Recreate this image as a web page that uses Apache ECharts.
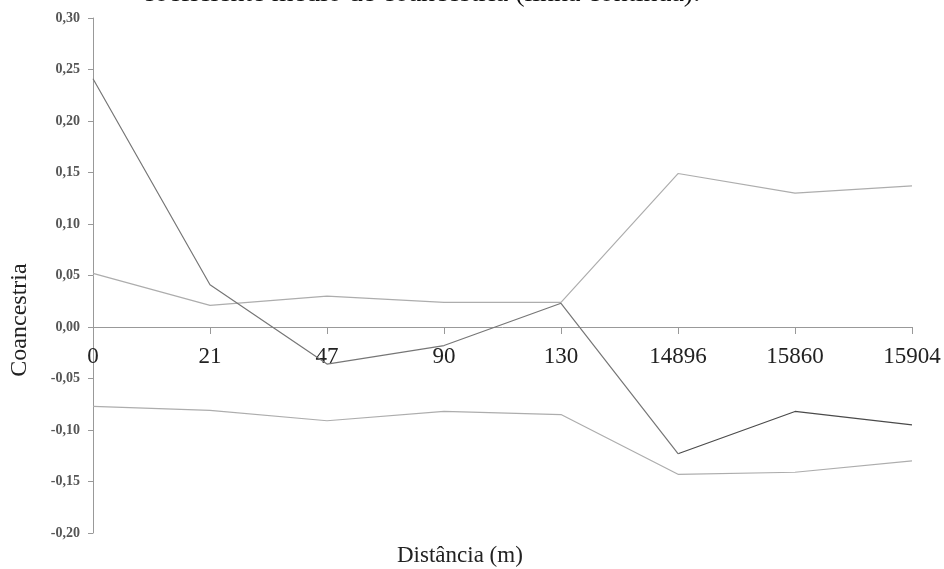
<!DOCTYPE html>
<html>
<head>
<meta charset="utf-8">
<script src="https://cdn.jsdelivr.net/npm/echarts@6/dist/echarts.min.js"></script>
<style>
  html, body { margin: 0; padding: 0; background: #fff; }
  #chart { width: 944px; height: 569px; }
</style>
</head>
<body>
<div id="chart"></div>
<script>
// Distance classes (m)
const distances = ['0', '21', '47', '90', '130', '14896', '15860', '15904'];
// Mean coancestry coefficient per distance class
const coancestry = [0.241, 0.041, -0.036, -0.018, 0.023, -0.123, -0.082, -0.095];
// Upper and lower limits of the confidence envelope
const upperLimit = [0.052, 0.021, 0.030, 0.024, 0.024, 0.149, 0.130, 0.137];
const lowerLimit = [-0.077, -0.081, -0.091, -0.082, -0.085, -0.143, -0.141, -0.130];

const serif = '"Liberation Serif", "Times New Roman", serif';

const chart = echarts.init(document.getElementById('chart'), null, { renderer: 'canvas' });

// Plot area: the y range -0.20..0.30 spans 18..533 px, so zero sits at 327 px
const gridTop = 18, gridBottom = 36;
const plotH = 569 - gridTop - gridBottom;
const zeroShift = -Math.round(plotH * 0.2 / 0.5);

// The far-distance part of the mean curve (from the 6th class on) is drawn darker
const split = 5 / (distances.length - 1);
const meanLineColor = {
  type: 'linear', x: 0, y: 0, x2: 1, y2: 0,
  colorStops: [
    { offset: 0, color: '#767676' },
    { offset: split, color: '#767676' },
    { offset: split, color: '#4a4a4a' },
    { offset: 1, color: '#4a4a4a' }
  ]
};

chart.setOption({
  animation: false,
  backgroundColor: '#ffffff',
  graphic: [
    {
      type: 'text',
      left: 142,
      top: -20,
      style: {
        text: 'coeficiente médio de coancestria (linha contínua).',
        font: '28px ' + serif,
        fill: '#111'
      }
    },
    {
      type: 'text',
      left: 397,
      top: 544,
      style: {
        text: 'Distância (m)',
        font: '23px ' + serif,
        fill: '#222'
      }
    },
    {
      type: 'text',
      x: 20,
      y: 320,
      rotation: Math.PI / 2,
      style: {
        text: 'Coancestria',
        font: '24px ' + serif,
        fill: '#222',
        align: 'center',
        verticalAlign: 'middle'
      }
    }
  ],
  grid: { left: 93, right: 32, top: gridTop, bottom: gridBottom, containLabel: false, outerBoundsMode: 'none' },
  xAxis: {
    type: 'category',
    data: distances,
    boundaryGap: false,
    offset: zeroShift,
    axisLine: { onZero: false, lineStyle: { color: '#999', width: 1 } },
    axisTick: { show: true, alignWithLabel: true, length: 7, inside: false, lineStyle: { color: '#999' } },
    axisLabel: { fontFamily: serif, fontSize: 23, color: '#222', margin: 18, showMaxLabel: true, showMinLabel: true, interval: 0 },
    splitLine: { show: false }
  },
  yAxis: {
    type: 'value',
    min: -0.2,
    max: 0.3,
    interval: 0.05,
    axisLine: { show: true, lineStyle: { color: '#999', width: 1 } },
    axisTick: { show: true, length: 5, lineStyle: { color: '#999' } },
    axisLabel: {
      fontFamily: serif, fontSize: 14, fontWeight: 'bold', color: '#555', margin: 13,
      formatter: v => v.toFixed(2).replace('.', ',')
    },
    splitLine: { show: false }
  },
  series: [
    {
      name: 'Limite superior',
      type: 'line',
      data: upperLimit,
      symbol: 'none',
      lineStyle: { color: '#adadad', width: 1.2 },
      z: 2
    },
    {
      name: 'Limite inferior',
      type: 'line',
      data: lowerLimit,
      symbol: 'none',
      lineStyle: { color: '#adadad', width: 1.2 },
      z: 2
    },
    {
      name: 'Coancestria',
      type: 'line',
      data: coancestry,
      symbol: 'none',
      lineStyle: { color: meanLineColor, width: 1.2 },
      z: 3
    }
  ]
});
</script>
</body>
</html>
